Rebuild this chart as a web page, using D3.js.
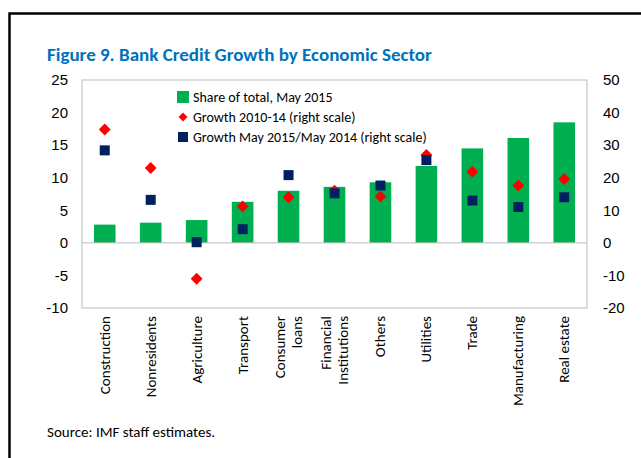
<!DOCTYPE html>
<html><head><meta charset="utf-8">
<script src="https://cdn.jsdelivr.net/npm/d3@7"></script>
<style>body{margin:0;background:#fff;font-family:Calibri,Carlito,"Open Sans",sans-serif}</style>
</head><body>
<script>
const categories = ["Construction","Nonresidents","Agriculture","Transport","Consumer\nloans","Financial\nInstitutions","Others","Utilities","Trade","Manufacturing","Real estate"];
const share = [2.8,3.1,3.5,6.3,8.0,8.6,9.3,11.8,14.5,16.1,18.5];
const growth1014 = [34.8,23,-11,11.2,14,16,14.2,27,21.8,17.6,19.6];
const growthYoY = [28.4,13.2,0.2,4.2,20.8,15.2,17.6,25.4,13,11,14];
const leftTicks = [-10,-5,0,5,10,15,20,25];
const rightTicks = [-20,-10,0,10,20,30,40,50];

const W = 641, H = 458;
const svg = d3.select("body").append("svg").attr("width", W).attr("height", H);
svg.append("path").attr("d", `M9.5,${H}V13.5H${W}`).attr("fill","none").attr("stroke","#000").attr("stroke-width",2.5);

const m = {l: 82, r: 587, t: 80, b: 308};
const x = d3.scaleBand().domain(categories).range([m.l, m.r]).paddingInner(0.53).paddingOuter(0.26);
const yL = d3.scaleLinear().domain([-10, 25]).range([m.b, m.t]);
const yR = d3.scaleLinear().domain([-20, 50]).range([m.b, m.t]);

svg.append("text").attr("x", 47).attr("y", 61).attr("fill", "#0071bc").attr("font-weight", "bold")
  .attr("font-size", 19).text("Figure 9. Bank Credit Growth by Economic Sector");

svg.append("rect").attr("x", m.l).attr("y", m.t).attr("width", m.r - m.l).attr("height", m.b - m.t)
  .attr("fill", "none").attr("stroke", "#bbb");

const fs = 15;
svg.append("g").attr("transform", `translate(${m.l - 14},0)`)
  .call(d3.axisLeft(yL).tickValues(leftTicks).tickSize(0).tickPadding(0).tickFormat(d => d < 0 ? "-" + (-d) : d))
  .call(g => g.select(".domain").remove())
  .selectAll("text").attr("font-size", fs).attr("font-family", "inherit").attr("fill", "#000");
svg.append("g").attr("transform", `translate(${m.r + 16},0)`)
  .call(d3.axisRight(yR).tickValues(rightTicks).tickSize(0).tickPadding(0).tickFormat(d => d < 0 ? "-" + (-d) : d))
  .call(g => g.select(".domain").remove())
  .selectAll("text").attr("font-size", fs).attr("font-family", "inherit").attr("fill", "#000");

svg.selectAll(".bar").data(share).join("rect")
  .attr("x", (d, i) => x(categories[i])).attr("width", x.bandwidth())
  .attr("y", d => yL(d)).attr("height", d => yL(0) - yL(d)).attr("fill", "#00b050");

svg.append("line").attr("x1", m.l).attr("x2", m.r).attr("y1", yL(0)).attr("y2", yL(0)).attr("stroke", "#bbb");

const cx = i => x(categories[i]) + x.bandwidth() / 2;
svg.selectAll(".dia").data(growth1014).join("path")
  .attr("d", d3.symbol(d3.symbolDiamond2, 90)).attr("fill", "#ff0000")
  .attr("transform", (d, i) => `translate(${cx(i)},${yR(d)})`);
svg.selectAll(".sq").data(growthYoY).join("rect")
  .attr("x", (d, i) => cx(i) - 5).attr("y", d => yR(d) - 5).attr("width", 10).attr("height", 10)
  .attr("fill", "#002060");

// category labels
categories.forEach((c, i) => {
  const lines = c.split("\n");
  const t = svg.append("text").attr("transform", `translate(${cx(i)},${m.b + 8}) rotate(-90)`)
    .attr("text-anchor", "end").attr("font-size", fs);
  lines.forEach((l, j) => t.append("tspan").attr("x", 0)
    .attr("y", (j - (lines.length - 1) / 2) * 17 + 5).text(l));
});

// legend
const leg = svg.append("g").attr("transform", "translate(183,97)");
const items = ["Share of total, May 2015", "Growth 2010-14  (right scale)", "Growth May 2015/May 2014  (right scale)"];
items.forEach((t, i) => {
  const g = leg.append("g").attr("transform", `translate(0,${i * 20})`);
  if (i === 0) g.append("rect").attr("x", -6).attr("y", -6).attr("width", 12).attr("height", 12).attr("fill", "#00b050");
  if (i === 1) g.append("path").attr("d", d3.symbol(d3.symbolDiamond2, 50)).attr("fill", "#ff0000");
  if (i === 2) g.append("rect").attr("x", -5).attr("y", -5).attr("width", 10).attr("height", 10).attr("fill", "#002060");
  g.append("text").attr("x", 10).attr("y", 5).attr("font-size", 14).text(t);
});

svg.append("text").attr("x", 47).attr("y", 437).attr("font-size", fs).text("Source: IMF staff estimates.");
</script>
</body></html>
